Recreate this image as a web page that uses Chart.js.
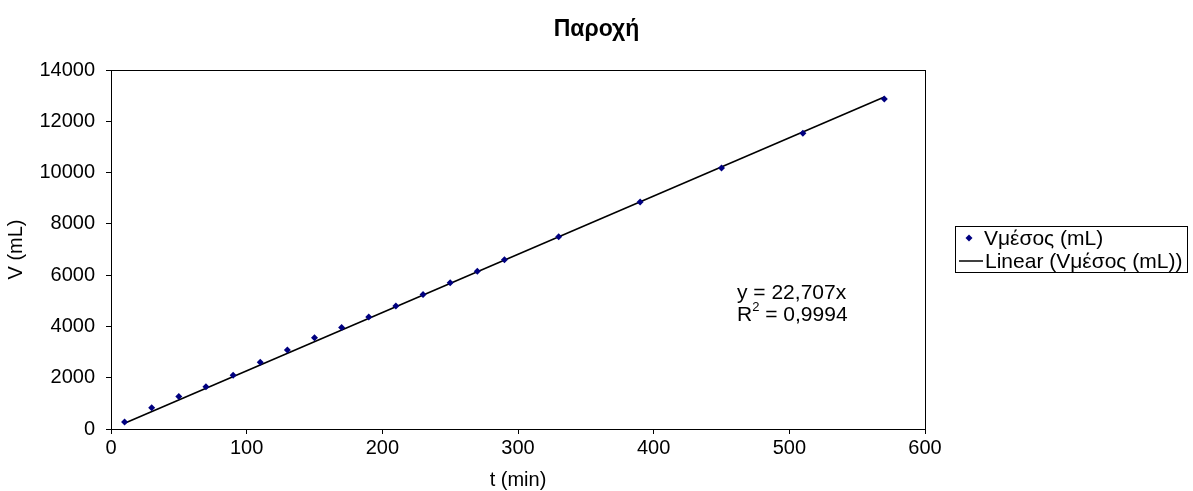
<!DOCTYPE html>
<html>
<head>
<meta charset="utf-8">
<script src="https://cdn.jsdelivr.net/npm/chart.js@4.4.1/dist/chart.umd.min.js"></script>
<style>
  html, body { margin: 0; padding: 0; background: #fff; }
  #wrap { width: 1193px; height: 491px; position: relative; }
</style>
</head>
<body>
<div id="wrap"><canvas id="c" width="1193" height="491"></canvas></div>
<script>
// ---- data ----
const titleText = 'Παροχή';
const xTitle = 't (min)';
const yTitle = 'V (mL)';
const seriesName = 'Vμέσος (mL)';
const trendName = 'Linear (Vμέσος (mL))';
const eqLine1 = 'y = 22,707x';
const eqLine2 = '= 0,9994';

const tMin  = [10, 30, 50, 70, 90, 110, 130, 150, 170, 190, 210, 230, 250, 270, 290, 330, 390, 450, 510, 570];
const vMean = [270, 830, 1270, 1650, 2100, 2600, 3080, 3560, 3960, 4370, 4800, 5250, 5700, 6150, 6600, 7500, 8850, 10180, 11530, 12870];

const trendT = [10, 570];
const trendV = [227, 12943];

const xMin = 0, xMax = 600, xStep = 100;
const yMin = 0, yMax = 14000, yStep = 2000;

const FONT = "'Liberation Sans', Arial, sans-serif";

const pointsData = tMin.map((t, i) => ({ x: t, y: vMean[i] }));
const trendData = trendT.map((t, i) => ({ x: t, y: trendV[i] }));

const decor = {
  id: 'decor',
  afterDraw(chart) {
    const ctx = chart.ctx;
    const a = chart.chartArea;
    ctx.save();
    // plot area frame
    ctx.strokeStyle = '#000';
    ctx.lineWidth = 1;
    ctx.strokeRect(Math.round(a.left) + 0.5, Math.round(a.top) + 0.5, Math.round(a.right - a.left), Math.round(a.bottom - a.top));

    // title
    ctx.fillStyle = '#000';
    ctx.font = "bold 23px " + FONT;
    ctx.textAlign = 'center';
    ctx.textBaseline = 'alphabetic';
    ctx.fillText(titleText, chart.width / 2, 36);

    // equation
    const ex = 737;
    ctx.font = "21px " + FONT;
    ctx.textAlign = 'left';
    ctx.textBaseline = 'alphabetic';
    ctx.fillText(eqLine1, ex, 299);
    ctx.fillText('R', ex, 321);
    const rw = ctx.measureText('R').width;
    ctx.font = "13px " + FONT;
    ctx.fillText('2', ex + rw, 311);
    const sw = ctx.measureText('2').width;
    ctx.font = "21px " + FONT;
    ctx.fillText(' ' + eqLine2, ex + rw + sw, 321);

    // legend
    const lx = 955, ly = 226, lw = 232, lh = 46;
    ctx.fillStyle = '#fff';
    ctx.fillRect(lx, ly, lw, lh);
    ctx.strokeStyle = '#000';
    ctx.lineWidth = 1;
    ctx.strokeRect(lx + 0.5, ly + 0.5, lw, lh);
    const r1 = ly + 12, r2 = ly + 35;
    // row 1 marker
    ctx.fillStyle = '#000080';
    ctx.beginPath();
    ctx.moveTo(969, r1 - 3.5); ctx.lineTo(972.5, r1); ctx.lineTo(969, r1 + 3.5); ctx.lineTo(965.5, r1);
    ctx.closePath(); ctx.fill();
    ctx.fillStyle = '#000';
    ctx.font = "21px " + FONT;
    ctx.textBaseline = 'middle';
    ctx.fillText(seriesName, 984, r1 + 1);
    // row 2 line
    ctx.strokeStyle = '#000';
    ctx.lineWidth = 1.5;
    ctx.beginPath(); ctx.moveTo(959, r2); ctx.lineTo(983, r2); ctx.stroke();
    ctx.fillText(trendName, 985, r2 + 1);
    ctx.restore();
  }
};

new Chart(document.getElementById('c'), {
  type: 'scatter',
  data: {
    datasets: [
      {
        label: trendName,
        data: trendData,
        showLine: true,
        borderColor: '#000',
        borderWidth: 1.6,
        pointRadius: 0,
        fill: false,
        order: 2
      },
      {
        label: seriesName,
        data: pointsData,
        pointStyle: 'rectRot',
        pointRadius: 3.5,
        pointBackgroundColor: '#000080',
        pointBorderColor: '#000080',
        pointBorderWidth: 0,
        order: 1
      }
    ]
  },
  options: {
    responsive: false,
    animation: false,
    devicePixelRatio: 1,
    layout: { padding: { top: 70, right: 268, left: 0, bottom: 0 } },
    plugins: {
      legend: { display: false },
      title: { display: false },
      tooltip: { enabled: false }
    },
    scales: {
      x: {
        type: 'linear',
        min: xMin, max: xMax,
        ticks: { stepSize: xStep, color: '#000', font: { family: FONT, size: 20 }, padding: 2, maxRotation: 0,
                 callback: v => String(v) },
        grid: { display: true, drawOnChartArea: false, drawTicks: true, tickLength: 5, color: '#000' },
        border: { display: true, color: '#000', width: 1 },
        title: { display: true, text: xTitle, color: '#000', font: { family: FONT, size: 20, lineHeight: 1 }, padding: { top: 0, bottom: 1 } },
        afterFit(s) { s.height = 62; }
      },
      y: {
        type: 'linear',
        min: yMin, max: yMax,
        ticks: { stepSize: yStep, color: '#000', font: { family: FONT, size: 20 }, padding: 11,
                 callback: v => String(v) },
        grid: { display: true, drawOnChartArea: false, drawTicks: true, tickLength: 5, color: '#000' },
        border: { display: true, color: '#000', width: 1 },
        title: { display: true, text: yTitle, color: '#000', font: { family: FONT, size: 20, lineHeight: 1 }, padding: { top: 6, bottom: 0 } },
        afterFit(s) { s.width = 111; }
      }
    }
  },
  plugins: [decor]
});
</script>
</body>
</html>
